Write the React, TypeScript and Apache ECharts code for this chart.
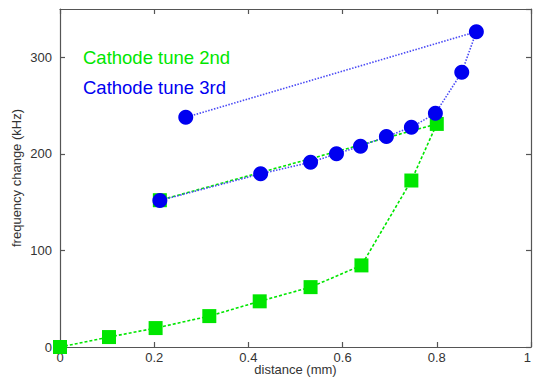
import React, { useEffect, useRef } from "react";
import * as echarts from "echarts";

const seriesNames = ["Cathode tune 2nd", "Cathode tune 3rd"];
const tune2nd: [number, number][] = [
  [0, 0],
  [0.104, 10.3],
  [0.203, 19.6],
  [0.317, 32],
  [0.424, 47.3],
  [0.532, 62],
  [0.64, 84.5],
  [0.746, 172.4],
  [0.8, 231],
  [0.212, 152],
];
const tune3rd: [number, number][] = [
  [0.212, 151.7],
  [0.426, 179.3],
  [0.532, 191.3],
  [0.587, 200],
  [0.638, 208],
  [0.693, 218],
  [0.746, 227.5],
  [0.797, 242],
  [0.853, 284.4],
  [0.884, 326.5],
  [0.267, 237.8],
];
const xTitle = "distance (mm)";
const yTitle = "frequency change (kHz)";

const GREEN = "#00e600";
const BLUE = "#0000f0";
const FONT = "'Liberation Sans', Arial, Helvetica, sans-serif";

export default function App() {
  const ref = useRef<HTMLDivElement>(null);
  useEffect(() => {
    if (!ref.current) return;
    const chart = echarts.init(ref.current, undefined, { renderer: "svg" });
    const axisLineStyle = { color: "#555", width: 1.2 };
    chart.setOption({
      animation: false,
      backgroundColor: "#fff",
      textStyle: { fontFamily: FONT },
      grid: { left: 60, right: 2, top: 9, bottom: 31, containLabel: false, outerBoundsMode: "none" },
      legend: {
        show: true,
        orient: "vertical",
        left: 73,
        top: 43,
        icon: "none",
        itemWidth: 0,
        itemGap: 11,
        selectedMode: false,
        data: [
          { name: seriesNames[0], textStyle: { color: GREEN } },
          { name: seriesNames[1], textStyle: { color: BLUE } },
        ],
        textStyle: { fontSize: 18.5, fontFamily: FONT },
      },
      xAxis: [
        {
          type: "value",
          min: 0,
          max: 1,
          interval: 0.2,
          position: "bottom",
          name: xTitle,
          nameLocation: "middle",
          nameGap: 16,
          nameMoveOverlap: false,
          nameTextStyle: { fontSize: 13, color: "#333", fontFamily: FONT, lineHeight: 13 },
          axisLine: { show: true, onZero: false, lineStyle: axisLineStyle },
          axisTick: { show: true, inside: true, length: 5, lineStyle: axisLineStyle },
          axisLabel: { fontSize: 13, color: "#333", margin: 4, fontFamily: FONT, alignMaxLabel: "right" },
          splitLine: { show: false },
        },
        {
          type: "value",
          min: 0,
          max: 1,
          interval: 0.2,
          position: "top",
          axisLine: { show: true, onZero: false, lineStyle: axisLineStyle },
          axisTick: { show: true, inside: true, length: 5, lineStyle: axisLineStyle },
          axisLabel: { show: false },
          splitLine: { show: false },
        },
      ],
      yAxis: [
        {
          type: "value",
          min: 0,
          max: 350,
          interval: 100,
          position: "left",
          name: yTitle,
          nameLocation: "middle",
          nameGap: 37,
          nameMoveOverlap: false,
          nameTextStyle: { fontSize: 13, color: "#333", fontFamily: FONT },
          axisLine: { show: true, onZero: false, lineStyle: axisLineStyle },
          axisTick: { show: true, inside: true, length: 5, lineStyle: axisLineStyle },
          axisLabel: { fontSize: 13, color: "#333", margin: 8, showMaxLabel: false, fontFamily: FONT },
          splitLine: { show: false },
        },
        {
          type: "value",
          min: 0,
          max: 350,
          interval: 100,
          position: "right",
          axisLine: { show: true, onZero: false, lineStyle: axisLineStyle },
          axisTick: { show: true, inside: true, length: 5, lineStyle: axisLineStyle },
          axisLabel: { show: false },
          splitLine: { show: false },
        },
      ],
      series: [
        {
          name: seriesNames[0],
          type: "line",
          data: tune2nd,
          xAxisIndex: 0,
          yAxisIndex: 0,
          symbol: "rect",
          symbolSize: 14,
          color: GREEN,
          itemStyle: { color: GREEN },
          lineStyle: { color: GREEN, width: 1.6, type: [3, 2] },
          z: 2,
        },
        {
          name: seriesNames[1],
          type: "line",
          data: tune3rd,
          xAxisIndex: 0,
          yAxisIndex: 0,
          symbol: "circle",
          symbolSize: 15,
          color: BLUE,
          itemStyle: { color: BLUE },
          lineStyle: { color: "#4a4af5", width: 1.6, type: [1.5, 1.5] },
          z: 3,
        },
      ],
    });
    return () => chart.dispose();
  }, []);
  return (
    <div
      ref={ref}
      style={{ position: "fixed", left: 0, top: 0, width: 533, height: 378 }}
    />
  );
}
